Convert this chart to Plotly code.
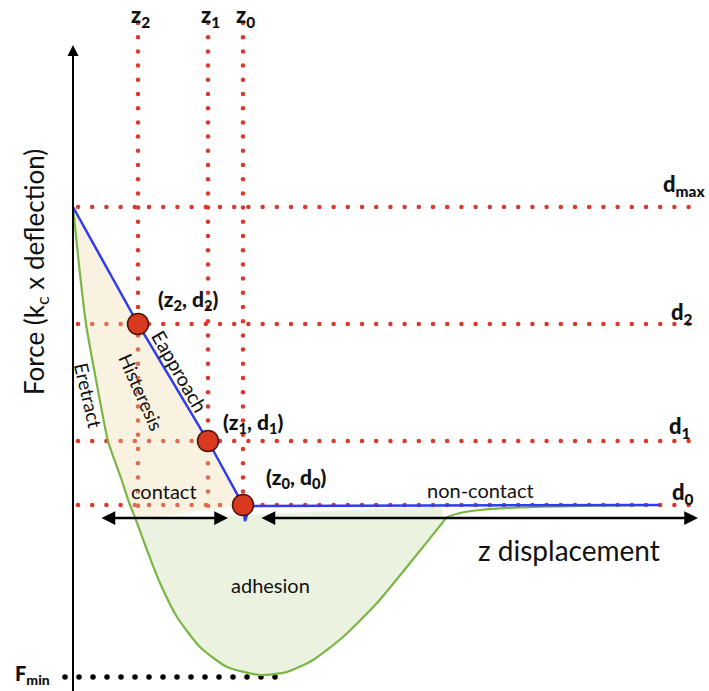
import numpy as np
import plotly.graph_objects as go

W, H = 709, 691
FONT = "Lato"
INK = "#111111"
RED = "#d9382b"
BLUE = "#2f3cf0"
GREEN = "#7bb545"

# ---- data (chart units; y grows downward, i.e. lower force further down) ----
z_labels = ["z<sub>2</sub>", "z<sub>1</sub>", "z<sub>0</sub>"]
z_vals = [138, 208, 243]
d_labels = ["d<sub>max</sub>", "d<sub>2</sub>", "d<sub>1</sub>", "d<sub>0</sub>"]
d_vals = [207, 324, 441, 505]
f_min = 677
f_min_label = "F<sub>min</sub>"

approach_z = [73, 138, 208, 243, 245, 250, 660]
approach_f = [207, 324, 441, 505, 521, 506, 505]

retract_z = [73, 79, 86, 97, 108, 121, 130, 136, 147, 160, 177, 200, 227, 260, 287,
             313, 343, 377, 410, 443, 446, 460, 480, 520, 580, 660]
retract_f = [207, 265, 324, 385, 441, 478, 505, 520, 550, 583, 617, 647, 667, 675, 672,
             660, 637, 603, 563, 522, 518, 513, 510, 507.5, 506, 505]

point_labels = ["(z<sub>2</sub>, d<sub>2</sub>)", "(z<sub>1</sub>, d<sub>1</sub>)",
                "(z<sub>0</sub>, d<sub>0</sub>)"]
point_z = z_vals
point_f = d_vals[1:]

x_extent = [0, W]
y_extent = [H, 0]
axis_origin_z = 73
axis_top = 45
grid_start_z = 78
grid_end_z = 700
grid_top = 23
dot_step = 14.2
fmin_z = [65, 282]

fig = go.Figure()

# dotted reference lines (round dots)
for d in d_vals:
    xs = np.arange(grid_start_z, grid_end_z, dot_step)
    fig.add_trace(go.Scatter(x=xs, y=np.full(len(xs), d), mode="markers",
                             marker=dict(color=RED, size=4.5, line=dict(width=0)),
                             hoverinfo="skip"))
for z in z_vals:
    ys = np.arange(grid_top, d_vals[-1] + 1, dot_step)
    fig.add_trace(go.Scatter(x=np.full(len(ys), z), y=ys, mode="markers",
                             marker=dict(color=RED, size=4.5, line=dict(width=0)),
                             hoverinfo="skip"))
xs = np.arange(fmin_z[0], fmin_z[1], 14.0)
fig.add_trace(go.Scatter(x=xs, y=np.full(len(xs), f_min), mode="markers",
                         marker=dict(color="#000000", size=5.5, line=dict(width=0)),
                         hoverinfo="skip"))

# hysteresis area (between approach and retract, above d0)
n_up = sum(1 for f in retract_f if f <= d_vals[-1])
hz = approach_z[:4] + retract_z[:n_up][::-1]
hf = approach_f[:4] + retract_f[:n_up][::-1]
fig.add_trace(go.Scatter(x=hz, y=hf, mode="lines", fill="toself",
                         fillcolor="rgba(235,215,160,0.32)", line=dict(width=0),
                         hoverinfo="skip"))

# adhesion area (retract curve below d0)
k_end = retract_z.index(443) + 1
az = retract_z[n_up - 1:k_end] + [retract_z[k_end - 1] - 2]
af = retract_f[n_up - 1:k_end] + [d_vals[-1] + 1]
fig.add_trace(go.Scatter(x=az, y=af, mode="lines", fill="toself",
                         fillcolor="rgba(200,222,170,0.36)",
                         line=dict(width=0, shape="spline", smoothing=0.6),
                         hoverinfo="skip"))

# curves
fig.add_trace(go.Scatter(x=retract_z, y=retract_f, mode="lines",
                         line=dict(color=GREEN, width=2.2, shape="spline", smoothing=0.6),
                         hoverinfo="skip"))
fig.add_trace(go.Scatter(x=approach_z, y=approach_f, mode="lines",
                         line=dict(color=BLUE, width=2.5), hoverinfo="skip"))

# vertical axis line
fig.add_trace(go.Scatter(x=[axis_origin_z, axis_origin_z], y=[H, axis_top + 6], mode="lines",
                         line=dict(color="#000000", width=2), hoverinfo="skip"))

# points
fig.add_trace(go.Scatter(x=point_z, y=point_f, mode="markers",
                         marker=dict(size=21, color="#d93a1f",
                                     line=dict(color="#4a1208", width=1.5)),
                         hoverinfo="skip"))

ann = []


def text(x, y, t, size, angle=0, bold=False, color=INK, xanchor="center"):
    ann.append(dict(x=x, y=y, xref="x", yref="y", text=t,
                    showarrow=False, textangle=angle, xanchor=xanchor, yanchor="middle",
                    font=dict(family=FONT, size=size, color=color,
                              weight=900 if bold else 400)))


# axis arrowhead
ann.append(dict(x=axis_origin_z, y=axis_top, ax=axis_origin_z, ay=axis_top + 40,
                xref="x", yref="y", axref="x", ayref="y", text="", showarrow=True,
                arrowhead=2, arrowsize=1.1, arrowwidth=2, arrowcolor="#000000"))
# double arrows
ann.append(dict(x=228, y=518, ax=100, ay=518, xref="x", yref="y", axref="x", ayref="y",
                text="", showarrow=True, arrowhead=2, startarrowhead=2, arrowside="end+start",
                arrowsize=1.1, startarrowsize=1.1, arrowwidth=2.5, arrowcolor="#000000"))
ann.append(dict(x=698, y=518, ax=260, ay=518, xref="x", yref="y", axref="x", ayref="y",
                text="", showarrow=True, arrowhead=2, startarrowhead=2, arrowside="end+start",
                arrowsize=1.1, startarrowsize=1.1, arrowwidth=2.5, arrowcolor="#000000"))

# z labels
for lab, z in zip(z_labels, z_vals):
    text(z + 2, 16, lab, 22, bold=True)
# d labels
for lab, y, xx in zip(d_labels, [185, 313, 427, 493], [684, 682, 680, 683]):
    text(xx, y, lab, 22, bold=True)
# point labels
for lab, x, y in zip(point_labels, [188, 253, 296], [300, 423, 478]):
    text(x, y, lab, 21, bold=True)

text(32, 674, f_min_label, 20, bold=True)
text(35, 272, "Force (k<sub>c</sub> x deflection)", 26, angle=-90)
text(569, 550, "z displacement", 28)
text(164, 491, "contact", 20)
text(480, 490, "non-contact", 20)
text(270, 585, "adhesion", 20)
text(180, 371, "Eapproach", 19.5, angle=60)
text(142, 392, "Histeresis", 19, angle=66)
text(89, 395, "Eretract", 19, angle=77)

fig.update_layout(
    width=W, height=H, margin=dict(l=0, r=0, t=0, b=0),
    paper_bgcolor="white", plot_bgcolor="white", showlegend=False,
    xaxis=dict(range=x_extent, visible=False, fixedrange=True),
    yaxis=dict(range=y_extent, visible=False, fixedrange=True),
    annotations=ann,
)

fig.write_html("out.html")
